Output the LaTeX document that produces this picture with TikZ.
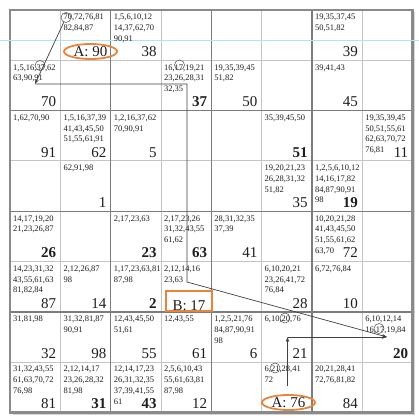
\documentclass[tikz,border=0pt]{standalone}
\usepackage{fontspec}
\setmainfont{Liberation Serif}
\usetikzlibrary{arrows.meta,shapes.geometric}
\definecolor{ora}{HTML}{E8853A}
\definecolor{thinl}{HTML}{C4C4C4}
\definecolor{thickl}{HTML}{7C7C7C}
\definecolor{outerl}{HTML}{8A8A8A}
\definecolor{cyanl}{HTML}{A8E8EE}
\definecolor{ink}{HTML}{1E1E1E}
\newcommand\Cand[4]{\node[cand] (#1) at ({10+50.3*#3+3},{10+50.3*#2+4}) {#4};}
\newcommand\BigNum[5]{\node[#4] (#1) at ({10+50.3*(#3+1)-4},{10+50.3*(#2+1)-3.8}) {#5};}
\begin{document}
\begin{tikzpicture}[x=1pt,y=-1pt,
  cand/.style={anchor=north west, inner sep=0pt, align=left, font=\fontsize{8.5}{10.7}\selectfont, text=ink},
  big/.style={anchor=base east, inner sep=0pt, font=\fontsize{15}{15}\selectfont, text=ink},
  bigb/.style={big, font=\fontsize{15}{15}\selectfont\bfseries},
  ring/.style={circle, draw=ink!80, line width=0.5pt, minimum size=10pt, inner sep=0pt},
  conn/.style={draw=ink!85, line width=0.7pt},
  tip/.style={-{Stealth[length=5pt,width=3.5pt]}},
  ovalA/.style={ellipse, draw=ora, line width=1.8pt, minimum width=53pt, minimum height=15pt, inner sep=0pt, font=\fontsize{15}{15}\selectfont, text=ink},
  boxB/.style={rectangle, draw=ora, line width=1.8pt, minimum width=46pt, minimum height=20pt, inner sep=0pt, text height=19pt, text depth=0pt, font=\fontsize{15}{15}\selectfont, text=ink},
]
\useasboundingbox (0,0) rectangle (419,419);
\fill[white] (0,0) rectangle (419,419);
% shadow and grid
\fill[black!16] (12.5,12.5) rectangle (414.8,414.8);
\fill[white] (10,10) rectangle (412.4,412.4);
\foreach \i in {1,3,5,7}{
  \draw[thinl, line width=0.8pt] ({10+50.3*\i},10) -- ({10+50.3*\i},412.4);
  \draw[thinl, line width=0.8pt] (10,{10+50.3*\i}) -- (412.4,{10+50.3*\i});
}
\foreach \i in {2,4,6}{
  \draw[thickl, line width=1.4pt] ({10+50.3*\i},10) -- ({10+50.3*\i},412.4);
  \draw[thickl, line width=1.4pt] (10,{10+50.3*\i}) -- (412.4,{10+50.3*\i});
}
\draw[outerl, line width=2.4pt] (10,10) rectangle (412.4,412.4);
\draw[cyanl, line width=0.6pt] (0,40) -- (419,40);

% candidates
\Cand{t01}{0}{1}{70,72,76,81\\82,84,87}
\Cand{t02}{0}{2}{1,5,6,10,12\\14,37,62,70\\90,91}
\Cand{t06}{0}{6}{19,35,37,45\\50,51,82}
\Cand{t10}{1}{0}{1,5,16,37,62\\63,90,91}
\Cand{t13}{1}{3}{16,17,19,21\\23,26,28,31\\32,35}
\Cand{t14}{1}{4}{19,35,39,45\\51,82}
\Cand{t16}{1}{6}{39,41,43}
\Cand{t20}{2}{0}{1,62,70,90}
\Cand{t21}{2}{1}{1,5,16,37,39\\41,43,45,50\\51,55,61,91}
\Cand{t22}{2}{2}{1,2,16,37,62\\70,90,91}
\Cand{t25}{2}{5}{35,39,45,50}
\Cand{t27}{2}{7}{19,35,39,45\\50,51,55,61\\62,63,70,72\\76,81}
\Cand{t31}{3}{1}{62,91,98}
\Cand{t35}{3}{5}{19,20,21,23\\26,28,31,32\\51,82}
\Cand{t36}{3}{6}{1,2,5,6,10,12\\14,16,17,82\\84,87,90,91\\98}
\Cand{t40}{4}{0}{14,17,19,20\\21,23,26,87}
\Cand{t42}{4}{2}{2,17,23,63}
\Cand{t43}{4}{3}{2,17,23,26\\31,32,43,55\\61,62}
\Cand{t44}{4}{4}{28,31,32,35\\37,39}
\Cand{t46}{4}{6}{10,20,21,28\\41,43,45,50\\51,55,61,62\\63,70}
\Cand{t50}{5}{0}{14,23,31,32\\43,55,61,63\\81,82,84}
\Cand{t51}{5}{1}{2,12,26,87\\98}
\Cand{t52}{5}{2}{1,17,23,63,81\\87,98}
\Cand{t53}{5}{3}{2,12,14,16\\23,63}
\Cand{t55}{5}{5}{6,10,20,21\\23,26,41,72\\76,84}
\Cand{t56}{5}{6}{6,72,76,84}
\Cand{t60}{6}{0}{31,81,98}
\Cand{t61}{6}{1}{31,32,81,87\\90,91}
\Cand{t62}{6}{2}{12,43,45,50\\51,61}
\Cand{t63}{6}{3}{12,43,55}
\Cand{t64}{6}{4}{1,2,5,21,76\\84,87,90,91\\98}
\Cand{t65}{6}{5}{6,10,20,76}
\Cand{t67}{6}{7}{6,10,12,14\\16,17,19,84}
\Cand{t70}{7}{0}{31,32,43,55\\61,63,70,72\\76,98}
\Cand{t71}{7}{1}{2,12,14,17\\23,26,28,32\\81,98}
\Cand{t72}{7}{2}{12,14,17,23\\26,31,32,35\\37,39,41,55\\61}
\Cand{t73}{7}{3}{2,5,6,10,43\\55,61,63,81\\87,98}
\Cand{t75}{7}{5}{6,21,28,41\\72}
\Cand{t76}{7}{6}{20,21,28,41\\72,76,81,82}

% big numbers
\BigNum{n02}{0}{2}{big}{38}
\BigNum{n06}{0}{6}{big}{39}
\BigNum{n10}{1}{0}{big}{70}
\BigNum{n13}{1}{3}{bigb}{37}
\BigNum{n14}{1}{4}{big}{50}
\BigNum{n16}{1}{6}{big}{45}
\BigNum{n20}{2}{0}{big}{91}
\BigNum{n21}{2}{1}{big}{62}
\BigNum{n22}{2}{2}{big}{5}
\BigNum{n25}{2}{5}{bigb}{51}
\BigNum{n27}{2}{7}{big}{11}
\BigNum{n31}{3}{1}{big}{1}
\BigNum{n35}{3}{5}{big}{35}
\BigNum{n36}{3}{6}{bigb}{19}
\BigNum{n40}{4}{0}{bigb}{26}
\BigNum{n42}{4}{2}{bigb}{23}
\BigNum{n43}{4}{3}{bigb}{63}
\BigNum{n44}{4}{4}{big}{41}
\BigNum{n46}{4}{6}{big}{72}
\BigNum{n50}{5}{0}{big}{87}
\BigNum{n51}{5}{1}{big}{14}
\BigNum{n52}{5}{2}{bigb}{2}
\BigNum{n55}{5}{5}{big}{28}
\BigNum{n56}{5}{6}{big}{10}
\BigNum{n60}{6}{0}{big}{32}
\BigNum{n61}{6}{1}{big}{98}
\BigNum{n62}{6}{2}{big}{55}
\BigNum{n63}{6}{3}{big}{61}
\BigNum{n64}{6}{4}{big}{6}
\BigNum{n65}{6}{5}{big}{21}
\BigNum{n67}{6}{7}{bigb}{20}
\BigNum{n70}{7}{0}{big}{81}
\BigNum{n71}{7}{1}{bigb}{31}
\BigNum{n72}{7}{2}{bigb}{43}
\BigNum{n73}{7}{3}{big}{12}
\BigNum{n76}{7}{6}{big}{84}

% marks
\node[ovalA] (A90) at (90.5,51.5) {A: 90};
\node[ovalA] (A76) at (288.5,402.5) {A: 76};
\node[boxB] (B17) at (189,301) {B: 17};
\node[ring] (r70) at (66,17.5) {};
\node[ring] (r37) at (40,65.5) {};
\node[ring] (r17a) at (179.5,65) {};
\node[ring] (r20) at (285,318) {};
\node[ring] (r17b) at (379,328.5) {};
\node[ring] (r21) at (275,368) {};

% connectors
\coordinate (k1) at (35,84);
\coordinate (k2) at (187,84);
\coordinate (k3) at (187,282);
\coordinate (k4) at (387,337);
\coordinate (k5) at (287.5,337);
\draw[conn,tip] (r70) -- (k1);
\draw[conn,tip] (k1) -- (k2) -- (k3) -- (k4);
\draw[conn,tip,shorten <=8pt] (A76.north -| k5) -- (k5);
\draw[conn,tip] (k5) -- (k4);
\end{tikzpicture}
\end{document}
